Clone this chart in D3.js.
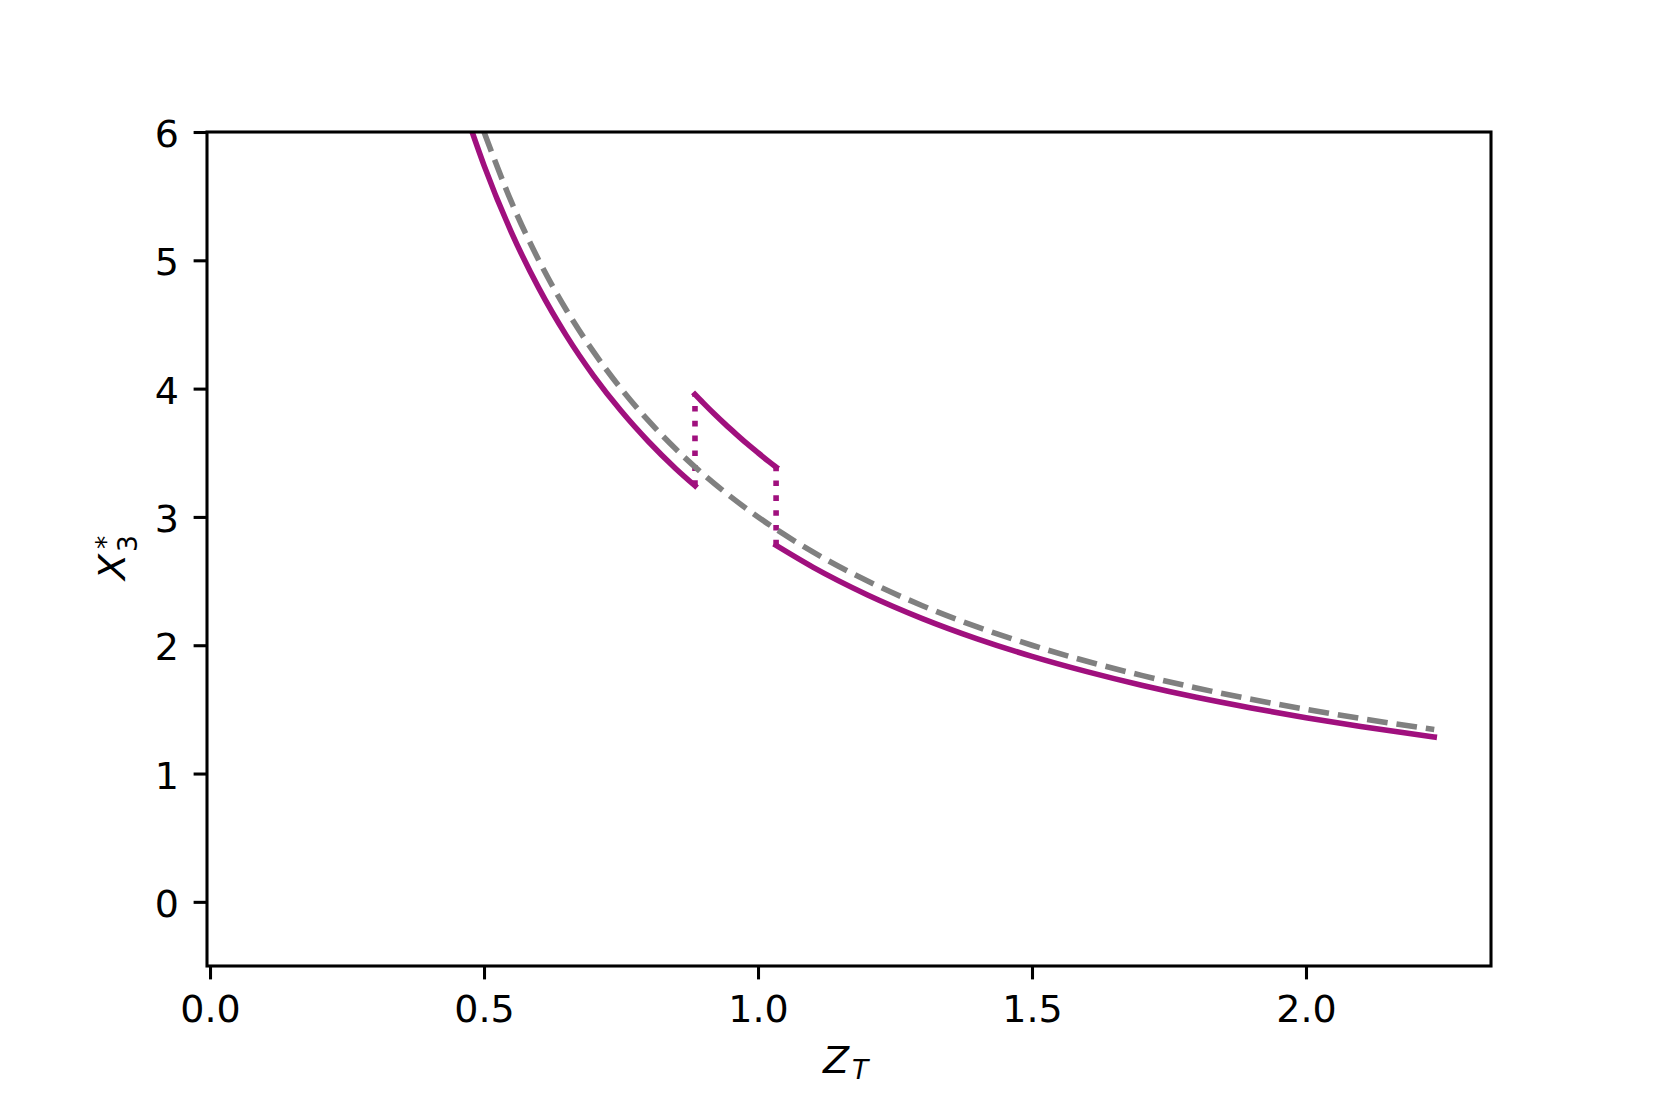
<!DOCTYPE html>
<html>
<head>
<meta charset="utf-8">
<script src="https://cdn.jsdelivr.net/npm/d3@7"></script>
<style>
  html, body { margin: 0; padding: 0; background: #fff; }
  svg text { font-family: "DejaVu Sans", sans-serif; fill: #000; }
</style>
</head>
<body>
<svg id="chart" width="1656" height="1104"></svg>
<script>
// ---- data ----
const xTicks = [0.0, 0.5, 1.0, 1.5, 2.0];
const yTicks = [0, 1, 2, 3, 4, 5, 6];

// grey dashed reference curve
const refX = [0.50, 0.55, 0.60, 0.65, 0.70, 0.75, 0.80, 0.85, 0.90, 0.95, 1.00, 1.10, 1.20, 1.30, 1.40, 1.50, 1.60, 1.70, 1.80, 1.90, 2.00, 2.10, 2.234];
const refY = [6.000, 5.455, 5.000, 4.615, 4.286, 4.000, 3.750, 3.529, 3.333, 3.158, 3.000, 2.727, 2.500, 2.308, 2.143, 2.000, 1.875, 1.765, 1.667, 1.579, 1.500, 1.429, 1.343];

// purple branch 1 (lower, left)
const b1X = [0.478, 0.50, 0.55, 0.60, 0.65, 0.70, 0.75, 0.80, 0.85, 0.885];
const b1Y = [6.004, 5.740, 5.218, 4.783, 4.415, 4.100, 3.827, 3.588, 3.376, 3.243];

// purple branch 2 (upper, middle)
const b2X = [0.885, 0.90, 0.92, 0.94, 0.96, 0.98, 1.00, 1.02, 1.033];
const b2Y = [3.955, 3.889, 3.804, 3.723, 3.646, 3.571, 3.500, 3.431, 3.388];

// purple branch 3 (lower, right)
const b3X = [1.033, 1.10, 1.20, 1.30, 1.40, 1.50, 1.60, 1.70, 1.80, 1.90, 2.00, 2.10, 2.234];
const b3Y = [2.778, 2.609, 2.392, 2.208, 2.050, 1.913, 1.794, 1.688, 1.594, 1.511, 1.435, 1.367, 1.285];

// dotted jumps: [x, yFrom, yTo]
const jumpX = [0.885, 1.033];
const jumpFrom = [3.243, 2.778];
const jumpTo = [3.955, 3.388];

// ---- layout ----
const svg = d3.select("#chart");
const L = 207, R = 1491, T = 132, B = 966;
const x = d3.scaleLinear().domain([-0.0055, 2.3376]).range([L, R]);
const y = d3.scaleLinear().domain([-0.5, 6]).range([B, T]);

const purple = "#a0107e";
const grey = "#808080";
const lw = 5.6;

svg.append("clipPath").attr("id", "clip")
  .append("rect").attr("x", L).attr("y", T).attr("width", R - L).attr("height", B - T);

const plot = svg.append("g").attr("clip-path", "url(#clip)");

const line = d3.line().x(d => x(d[0])).y(d => y(d[1])).curve(d3.curveMonotoneX);
const zip = (a, b) => a.map((v, i) => [v, b[i]]);

// purple branches
[[b1X, b1Y], [b2X, b2Y], [b3X, b3Y]].forEach(([xs, ys]) => {
  plot.append("path").attr("d", line(zip(xs, ys)))
    .attr("fill", "none").attr("stroke", purple).attr("stroke-width", lw)
    .attr("stroke-linecap", "square");
});

// dotted jumps
jumpX.forEach((jx, i) => {
  plot.append("line")
    .attr("x1", x(jx)).attr("x2", x(jx))
    .attr("y1", y(jumpFrom[i])).attr("y2", y(jumpTo[i]))
    .attr("stroke", purple).attr("stroke-width", lw)
    .attr("stroke-dasharray", `${lw.toFixed(2)},${(1.65 * lw).toFixed(2)}`);
});

// grey dashed
plot.append("path").attr("d", line(zip(refX, refY)))
  .attr("fill", "none").attr("stroke", grey).attr("stroke-width", lw)
  .attr("stroke-dasharray", `${(3.7 * lw).toFixed(2)},${(1.6 * lw).toFixed(2)}`);

// ---- axes ----
const tickLen = 13.4, spineW = 3.07, fs = 38;

const xAxis = svg.append("g").attr("transform", `translate(0,${B})`)
  .call(d3.axisBottom(x).tickValues(xTicks).tickFormat(d3.format(".1f"))
    .tickSizeInner(tickLen).tickSizeOuter(0).tickPadding(13.4));
xAxis.select(".domain").remove();
xAxis.selectAll(".tick line").attr("stroke", "#000").attr("stroke-width", spineW);
xAxis.selectAll(".tick text").attr("font-size", fs).attr("dy", null).attr("y", 56)
  .style("font-family", "DejaVu Sans");

const yAxis = svg.append("g").attr("transform", `translate(${L},0)`)
  .call(d3.axisLeft(y).tickValues(yTicks).tickFormat(d3.format("d"))
    .tickSizeInner(tickLen).tickSizeOuter(0).tickPadding(13.4));
yAxis.select(".domain").remove();
yAxis.selectAll(".tick line").attr("stroke", "#000").attr("stroke-width", spineW);
yAxis.selectAll(".tick text").attr("font-size", fs).attr("dy", null).attr("y", 14.5).attr("x", -28)
  .style("font-family", "DejaVu Sans");

// frame
svg.append("rect").attr("x", L).attr("y", T).attr("width", R - L).attr("height", B - T)
  .attr("fill", "none").attr("stroke", "#000").attr("stroke-width", spineW)
  .attr("stroke-linejoin", "miter");

// x label Z_T
const xl = svg.append("g");
xl.append("text").attr("x", 823).attr("y", 1073).attr("font-size", fs)
  .attr("font-style", "italic").text("Z");
xl.append("text").attr("x", 852).attr("y", 1079).attr("font-size", 26.6)
  .attr("font-style", "italic").text("T");

// y label X*_3 (rotated)
const yl = svg.append("g").attr("transform", "translate(125,580) rotate(-90)");
yl.append("text").attr("x", 0).attr("y", 0).attr("font-size", fs)
  .attr("font-style", "italic").text("X");
yl.append("text").attr("x", 28).attr("y", 12).attr("font-size", 26.6).text("3");
yl.append("text").attr("x", 31).attr("y", -10).attr("font-size", 26.6).text("*");
</script>
</body>
</html>
